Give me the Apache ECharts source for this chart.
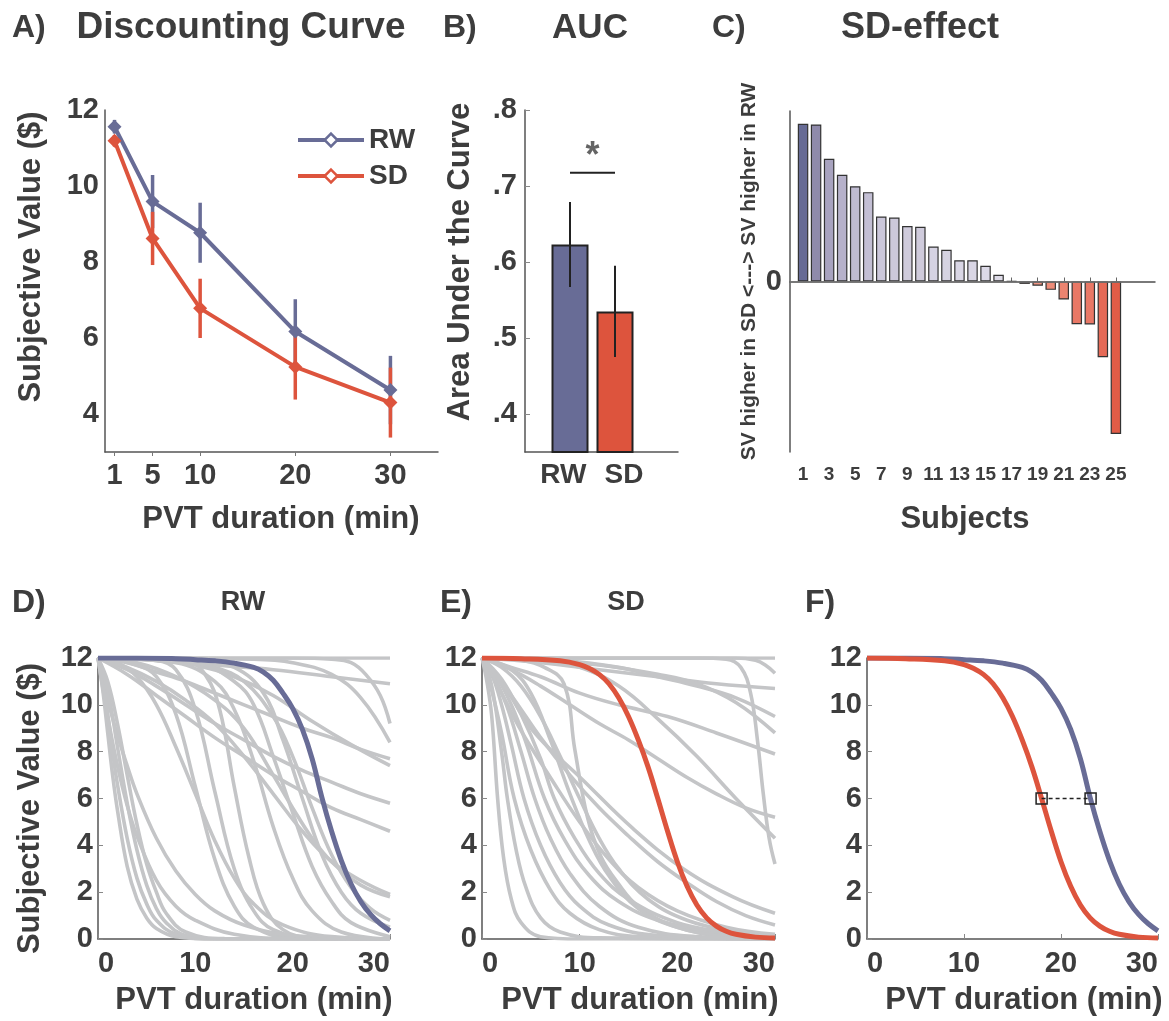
<!DOCTYPE html>
<html><head><meta charset="utf-8">
<script src="https://cdn.jsdelivr.net/npm/echarts@6/dist/echarts.min.js"></script>
<style>html,body{margin:0;padding:0;background:#fff}#c{width:1169px;height:1021px}</style>
</head><body><div id="c"></div><script>
// ---------- DATA ----------
const durations = [1, 5, 10, 20, 30];
const rwMean = [11.56, 9.59, 8.77, 6.17, 4.63];
const rwSem  = [0.18, 0.70, 0.79, 0.85, 0.90];
const sdMean = [11.19, 8.62, 6.78, 5.24, 4.30];
const sdSem  = [0.15, 0.70, 0.78, 0.86, 0.92];

const aucGroups = ['RW', 'SD'];
const aucMean = [0.623, 0.535];
const aucSem  = [0.056, 0.060];
const aucSigLevel = 0.7175;
const aucStarLevel = 0.738;

const subjects = [1,2,3,4,5,6,7,8,9,10,11,12,13,14,15,16,17,18,19,20,21,22,23,24,25];
const sdEffect = [0.925,0.921,0.720,0.626,0.559,0.524,0.381,0.375,0.325,0.321,0.205,0.186,0.125,0.125,0.092,0.039,0.003,-0.014,-0.025,-0.049,-0.106,-0.250,-0.252,-0.444,-0.894];
const subjectTicks = [1,3,5,7,9,11,13,15,17,19,21,23,25];

// group-level fitted discounting curves [minutes, $]
const rwGroupCurve = [[0,12],[4,12],[8,11.97],[10,11.93],[12,11.88],[14,11.78],[16,11.6],[17,11.4],[18,11.05],[19,10.5],[20,9.85],[21,8.95],[22,7.7],[23,6.05],[24,4.6],[25,3.35],[26,2.35],[27,1.6],[28,1.05],[29,0.65],[30,0.35]];
const sdGroupCurve = [[0,12],[4,11.97],[8,11.88],[10,11.72],[11,11.55],[12,11.3],[13,10.9],[14,10.3],[15,9.5],[16,8.5],[17,7.35],[18,6.0],[19,4.6],[20,3.3],[21,2.25],[22,1.45],[23,0.9],[24,0.55],[25,0.33],[26,0.2],[28,0.08],[30,0.04]];
const halfValueX = [18.0, 23.05];
const halfValueY = 6;

// individual subject curves, RW
const rwSubjectCurves = [
 [[0,12],[30,12]],
 [[0,12],[20,12],[24,11.95],[26,11.8],[27.5,11.3],[29,10.4],[30,9.2]],
 [[0,12],[16,11.95],[20,11.8],[24,11.3],[27,10.3],[30,8.4]],
 [[0,12],[6,11.9],[12,11.7],[18,11.5],[24,11.2],[30,10.9]],
 [[0,12],[3,11.8],[6,11.4],[9,11.0],[12,10.5],[15,10.0],[18,9.5],[21,9.0],[24,8.6],[27,8.1],[30,7.7]],
 [[0,12],[6,11.9],[10,11.7],[14,11.2],[18,10.4],[22,9.3],[26,8.3],[30,7.4]],
 [[0,12],[3,11.5],[6,10.8],[9,10.0],[12,9.2],[15,8.5],[18,7.8],[21,7.2],[24,6.7],[27,6.2],[30,5.8]],
 [[0,12],[3,11.3],[6,10.4],[9,9.5],[12,8.6],[15,7.8],[18,7.0],[21,6.3],[24,5.6],[27,5.1],[30,4.6]],
 [[0,12],[3,11.6],[6,11],[9,10.2],[12,9.2],[15,7.8],[18,6.2],[21,4.6],[24,3.3],[27,2.5],[30,1.9]],
 [[0,12],[4,11.8],[8,11.2],[12,10.2],[15,9.0],[18,7.0],[20,5.6],[22,4.3],[24,3.3],[27,2.3],[30,1.8]],
 [[0,12],[8,11.9],[12,11.6],[15,11],[18,9.5],[20,7.8],[22,5.6],[24,3.6],[26,2.2],[28,1.3],[30,0.8]],
 [[0,12],[10,11.9],[14,11.6],[17,10.5],[19,8.5],[21,6],[23,3.6],[25,2],[27,1.1],[30,0.5]],
 [[0,12],[10,11.8],[14,11],[16,10],[18,7.8],[20,5.4],[22,3.1],[24,1.6],[26,0.7],[30,0.1]],
 [[0,12],[8,11.8],[12,11],[14,9.8],[16,7.6],[18,4.8],[20,2.6],[22,1.2],[25,0.3],[30,0]],
 [[0,12],[9,11.9],[11,11.3],[12.5,9.8],[14,6.5],[15.5,3.5],[17,1.5],[19,0.4],[22,0.05],[30,0]],
 [[0,12],[6,11.9],[8,11.5],[10,9.8],[12,6.3],[14,3],[16,1.2],[18,0.4],[22,0.05],[30,0]],
 [[0,12],[2,11.8],[4,11.2],[6,10],[8,8.2],[10,6.2],[12,4.2],[14,2.6],[16,1.5],[19,0.6],[24,0.1],[30,0]],
 [[0,12],[4,11.7],[6,11.2],[8,9.6],[10,6.5],[12,3.4],[14,1.4],[16,0.5],[20,0.05],[30,0]],
 [[0,12],[1,10.2],[2,8.7],[3,7.4],[4,6.2],[6,4.3],[8,2.9],[10,1.9],[12,1.2],[15,0.6],[20,0.15],[30,0]],
 [[0,12],[1,9.5],[2,7.4],[3,5.7],[4,4.4],[6,2.5],[8,1.4],[10,0.8],[14,0.2],[20,0.02],[30,0]],
 [[0,12],[0.5,10.6],[1,8.8],[1.5,7.0],[2,5.5],[3,3.1],[4,1.7],[5,0.9],[6,0.45],[8,0.1],[12,0],[30,0]],
 [[0,12],[0.5,11],[1,9.6],[1.5,8],[2,6.6],[3,4.3],[4,2.6],[5,1.5],[6,0.8],[8,0.2],[12,0],[30,0]],
 [[0,12],[1,10.6],[2,8.2],[3,5.8],[4,3.8],[5,2.3],[6,1.3],[7,0.7],[9,0.15],[13,0],[30,0]],
 [[0,12],[1,11],[2,9.2],[3,7],[4,4.9],[5,3.2],[6,2],[7,1.1],[9,0.3],[13,0.02],[30,0]]
];
// individual subject curves, SD
const sdSubjectCurves = [
 [[0,12],[30,12]],
 [[0,12],[26,12],[28,11.9],[29,11.7],[30,11.35]],
 [[0,12],[22,12],[25,11.95],[26.5,11.6],[27.5,10.5],[28.2,8.5],[28.8,6.2],[29.4,4.3],[30,3.2]],
 [[0,12],[6,11.8],[12,11.5],[18,11.2],[24,10.9],[30,10.7]],
 [[0,12],[8,11.9],[14,11.6],[18,11.2],[22,10.8],[26,10.3],[30,9.5]],
 [[0,12],[6,11.9],[12,11.7],[18,11.3],[22,10.9],[26,10.1],[30,8.8]],
 [[0,12],[3,11.6],[6,11.2],[10,10.5],[14,10],[19,9.5],[24,8.8],[30,7.9]],
 [[0,12],[3,11.5],[6,10.8],[9,10],[12,9.2],[15,8.5],[18,7.7],[21,6.9],[24,6.2],[27,5.6],[30,5.2]],
 [[0,12],[6,11.9],[10,11.6],[14,10.8],[18,9.4],[22,7.8],[26,6],[30,4.3]],
 [[0,12],[2,11],[5.2,8.9],[10.3,6.8],[15.5,4.7],[20.6,3.0],[25.7,1.8],[30,1.1]],
 [[0,12],[2,10.5],[4,8.9],[7,6.9],[10,5],[13,3.4],[16,2.2],[20,1.2],[25,0.5],[30,0.2]],
 [[0,12],[4,11.9],[6.4,11.6],[8.4,10.9],[9.5,8.1],[10.8,5.2],[12.2,3.5],[13.9,2.4],[16,1.4],[20,0.5],[25,0.15],[30,0.05]],
 [[0,12],[3,11.5],[5,10.5],[7,8.5],[9,6.2],[11,4.2],[13,2.7],[16,1.3],[20,0.5],[25,0.1],[30,0]],
 [[0,12],[0.5,11],[1,9.5],[1.6,6],[2.2,3.5],[3,1.7],[4,0.7],[6,0.1],[10,0],[30,0]],
 [[0,12],[1,10.8],[2,8],[2.6,6],[3.5,3.8],[4.5,2.2],[6,0.9],[8,0.3],[12,0.05],[30,0]],
 [[0,12],[1,10.6],[2,8.8],[3.3,6],[5,3.8],[7,2.1],[9,1.1],[12,0.4],[16,0.1],[30,0]],
 [[0,12],[1,11.3],[2,10],[3,8.3],[4.3,6],[6,4],[8,2.4],[10,1.4],[13,0.6],[18,0.15],[30,0]],
 [[0,12],[1,11.4],[2.5,10],[4,8],[5.4,6],[7,4.3],[9,2.8],[12,1.4],[16,0.5],[22,0.1],[30,0]],
 [[0,12],[1.5,11.2],[3,10],[4.5,8.4],[6.4,6],[8.5,4.2],[11,2.7],[14,1.6],[18,0.8],[24,0.3],[30,0.1]],
 [[0,12],[2,11.1],[4,9.6],[6,7.7],[7.4,6],[9.5,4.3],[12,2.8],[15,1.7],[20,0.7],[25,0.3],[30,0.1]],
 [[0,12],[3,10.4],[6,8.6],[9,7],[12,5.6],[15,4.4],[18,3.3],[21,2.4],[24,1.6],[27,1.0],[30,0.6]],
 [[0,12],[2,11.6],[4,10.8],[6,9.5],[8,7.8],[10,6],[12,4.3],[14,3],[17,1.7],[21,0.8],[26,0.3],[30,0.1]]
];

// ---------- STYLE ----------
const RW = '#686c96', SD = '#dd543d', GRAY = '#c4c5c7', TXT = '#3d3d3d', AX = '#555';
const FONT = '"Liberation Sans", Arial, Helvetica, sans-serif';
const effectColors = ['#676b95','#8f8aab','#a8a3bf','#b6b1ca','#bfbbd1','#c3bfd4','#cbc7da','#ccc8da','#cfcbdc','#cfcbdc','#d5d2e2','#d6d3e2','#d9d6e5','#d9d6e5','#dcd9e7','#dedbe8','#444444','#f09a88','#ef9482','#ee8c79','#ec8470','#e97866','#e97866','#e56a57','#e15c47'];

const tickFont = {fontFamily: FONT, fontWeight: 'bold', fontSize: 29, color: TXT};
const nameFont = {fontFamily: FONT, fontWeight: 'bold', fontSize: 31, color: TXT};
const axLine = {show: true, lineStyle: {color: AX, width: 1.5}};

function valAxis(o) {
  return Object.assign({type: 'value', splitLine: {show: false}, axisLine: axLine,
    axisTick: {show: true, inside: true, length: 5, lineStyle: {color: '#888'}},
    axisLabel: Object.assign({}, tickFont), nameTextStyle: Object.assign({}, nameFont)}, o);
}

function errBars(name, xi, yi, xs, means, sems, color, w) {
  return {type: 'custom', name, xAxisIndex: xi, yAxisIndex: yi, silent: true, z: 3,
    data: xs.map((x, i) => [x, means[i] - sems[i], means[i] + sems[i]]),
    renderItem: (p, api) => {
      const a = api.coord([api.value(0), api.value(1)]);
      const b = api.coord([api.value(0), api.value(2)]);
      return {type: 'line', shape: {x1: a[0], y1: a[1], x2: b[0], y2: b[1]}, style: {stroke: color, lineWidth: w}};
    }};
}

const grids = [
  {left: 105, top: 110, width: 333, height: 342},   // A
  {left: 525, top: 110, width: 153, height: 342},   // B
  {left: 790, top: 111, width: 365, height: 341},   // C
  {left: 98,  top: 658, width: 292, height: 281},   // D
  {left: 482, top: 658, width: 293, height: 281},   // E
  {left: 867, top: 658, width: 291, height: 281}    // F
];

const xAxes = [
  valAxis({gridIndex: 0, min: 0, max: 35,
    axisTick: {show: true, inside: false, length: 4, customValues: durations, lineStyle: {color: '#777'}},
    axisLabel: Object.assign({}, tickFont, {customValues: durations, margin: 9}),
    name: 'PVT duration (min)', nameLocation: 'middle', nameGap: 52,
    nameTextStyle: Object.assign({}, nameFont, {padding: [0, 0, 0, 19]})}),
  valAxis({gridIndex: 1, min: 0, max: 3.4,
    axisTick: {show: false},
    axisLabel: Object.assign({}, tickFont, {fontSize: 28, customValues: [0.85, 2.2], margin: 9, formatter: v => (v < 1.5 ? aucGroups[0] : aucGroups[1])})}),
  valAxis({gridIndex: 2, min: 0, max: 28,
    axisTick: {show: true, inside: true, length: 4, customValues: subjectTicks, lineStyle: {color: '#666'}},
    axisLabel: Object.assign({}, tickFont, {fontSize: 19, customValues: subjectTicks, margin: 13}),
    name: 'Subjects', nameLocation: 'middle', nameGap: 52,
    nameTextStyle: Object.assign({}, nameFont, {padding: [0, 15, 0, 0]})}),
];
[3, 4, 5].forEach((g, k) => {
  xAxes.push(valAxis({gridIndex: g, min: 0, max: 30, interval: 10,
    axisLabel: Object.assign({}, tickFont, {margin: 10, alignMinLabel: 'left', alignMaxLabel: 'right'}),
    name: 'PVT duration (min)', nameLocation: 'middle', nameGap: 46,
    nameTextStyle: Object.assign({}, nameFont, {padding: [0, 0, 0, [20, 23, 23][k]]})}));
});

const yAxes = [
  valAxis({gridIndex: 0, min: 3, max: 12, axisTick: {show: false},
    axisLabel: Object.assign({}, tickFont, {customValues: [4, 6, 8, 10, 12], margin: 6}),
    name: 'Subjective Value ($)', nameLocation: 'middle', nameGap: 58,
    nameTextStyle: Object.assign({}, nameFont, {padding: [0, 0, 0, 48]})}),
  valAxis({gridIndex: 1, min: 0.35, max: 0.8,
    axisTick: {show: true, inside: true, length: 5, customValues: [0.4, 0.5, 0.6, 0.7, 0.8], lineStyle: {color: '#888'}},
    axisLabel: Object.assign({}, tickFont, {customValues: [0.4, 0.5, 0.6, 0.7, 0.8], margin: 8,
      formatter: v => v.toFixed(1).replace(/^0/, '')}),
    name: 'Area Under the Curve', nameLocation: 'middle', nameGap: 49,
    nameTextStyle: Object.assign({}, nameFont, {padding: [0, 0, 0, 38]})}),
  valAxis({gridIndex: 2, min: -1, max: 1, axisTick: {show: false},
    axisLabel: Object.assign({}, tickFont, {customValues: [0], margin: 8}),
    name: 'SV higher in SD <---> SV higher in RW', nameLocation: 'middle', nameGap: 30,
    nameTextStyle: Object.assign({}, nameFont, {fontSize: 21, padding: [0, 0, 0, 20]})}),
];
[3, 4, 5].forEach((g, k) => {
  yAxes.push(valAxis({gridIndex: g, min: 0, max: 12, interval: 2,
    axisLabel: Object.assign({}, tickFont, {margin: 5}),
    name: k === 0 ? 'Subjective Value ($)' : '', nameLocation: 'middle', nameGap: 52,
    nameTextStyle: Object.assign({}, nameFont, {padding: [0, 20, 0, 0]})}));
});

const series = [];
// A
series.push(errBars('RW err', 0, 0, durations, rwMean, rwSem, RW, 3.5));
series.push({type: 'line', name: 'RW', xAxisIndex: 0, yAxisIndex: 0,
  data: durations.map((d, i) => [d, rwMean[i]]), symbol: 'diamond', symbolSize: 14,
  lineStyle: {color: RW, width: 4}, itemStyle: {color: RW}, z: 4});
series.push(errBars('SD err', 0, 0, durations, sdMean, sdSem, SD, 3.5));
series.push({type: 'line', name: 'SD', xAxisIndex: 0, yAxisIndex: 0,
  data: durations.map((d, i) => [d, sdMean[i]]), symbol: 'diamond', symbolSize: 14,
  lineStyle: {color: SD, width: 4}, itemStyle: {color: SD}, z: 5});
// B
series.push({type: 'bar', name: 'AUC', xAxisIndex: 1, yAxisIndex: 1, barWidth: 37, clip: true,
  data: aucGroups.map((g, i) => ({value: [i + 1, aucMean[i]], itemStyle: {color: i ? SD : RW, borderColor: '#222', borderWidth: 2}}))});
series.push(errBars('AUC err', 1, 1, [1, 2], aucMean, aucSem, '#222', 2));
series.push({type: 'line', name: 'sig', xAxisIndex: 1, yAxisIndex: 1, data: [[1, aucSigLevel], [2, aucSigLevel]],
  symbol: 'none', lineStyle: {color: '#222', width: 2}});
series.push({type: 'scatter', name: 'star', xAxisIndex: 1, yAxisIndex: 1, data: [[1.5, aucStarLevel]], symbolSize: 0,
  label: {show: true, formatter: '*', position: 'inside', fontFamily: FONT, fontWeight: 'bold', fontSize: 36, color: TXT}});
// C
series.push({type: 'bar', name: 'effect', xAxisIndex: 2, yAxisIndex: 2, barWidth: 10.5,
  data: subjects.map((s, i) => ({value: [s, sdEffect[i]], itemStyle: {color: effectColors[i], borderColor: '#333', borderWidth: 1.2}})),
  markLine: {silent: true, symbol: 'none', label: {show: false}, data: [{yAxis: 0}], lineStyle: {color: '#777', width: 1.5, type: 'solid'}}});
// D, E
function curveSeries(c, xi, color, w, z) {
  return {type: 'line', xAxisIndex: xi, yAxisIndex: xi, data: c, smooth: 0.4, showSymbol: false, symbol: 'none',
    lineStyle: {color, width: w}, silent: true, z};
}
rwSubjectCurves.forEach(c => series.push(curveSeries(c, 3, GRAY, 3.6, 2)));
series.push(curveSeries(rwGroupCurve, 3, RW, 5, 4));
sdSubjectCurves.forEach(c => series.push(curveSeries(c, 4, GRAY, 3.6, 2)));
series.push(curveSeries(sdGroupCurve, 4, SD, 5, 4));
// F
series.push(curveSeries(rwGroupCurve, 5, RW, 5, 3));
series.push(curveSeries(sdGroupCurve, 5, SD, 5, 3));
series.push({type: 'line', xAxisIndex: 5, yAxisIndex: 5, data: halfValueX.map(x => [x, halfValueY]),
  symbol: 'rect', symbolSize: 11, showSymbol: true, z: 5,
  lineStyle: {color: '#222', width: 1.5, type: [4, 3]},
  itemStyle: {color: 'rgba(0,0,0,0)', borderColor: '#222', borderWidth: 1.5}});

function title(text, x, y, size, align) {
  return {type: 'text', x, y, style: {text, fontFamily: FONT, fontWeight: 'bold', fontSize: size, fill: TXT,
    align: align || 'left', verticalAlign: 'middle'}};
}
const graphics = [
  title('A)', 12, 28, 32), title('Discounting Curve', 241, 28, 37, 'center'),
  title('B)', 443, 28, 32), title('AUC', 590, 28, 35, 'center'),
  title('C)', 712, 28, 32), title('SD-effect', 920, 28, 36, 'center'),
  title('D)', 12, 603, 32), title('RW', 243, 603, 27, 'center'),
  title('E)', 440, 603, 32), title('SD', 626, 603, 27, 'center'),
  title('F)', 805, 603, 32)
];

const chart = echarts.init(document.getElementById('c'), null, {renderer: 'canvas'});
chart.setOption({
  animation: false,
  backgroundColor: '#fff',
  textStyle: {fontFamily: FONT},
  grid: grids,
  xAxis: xAxes,
  yAxis: yAxes,
  legend: {left: 291, top: 120, orient: 'vertical', itemWidth: 66, itemHeight: 16, itemGap: 6,
    lineStyle: {width: 4},
    data: [
      {name: 'RW', itemStyle: {color: '#fff', borderColor: RW, borderWidth: 2.5}},
      {name: 'SD', itemStyle: {color: '#fff', borderColor: SD, borderWidth: 2.5}}
    ],
    textStyle: {fontFamily: FONT, fontWeight: 'bold', fontSize: 28, color: TXT, lineHeight: 30}},
  graphic: graphics,
  series
});
</script></body></html>
